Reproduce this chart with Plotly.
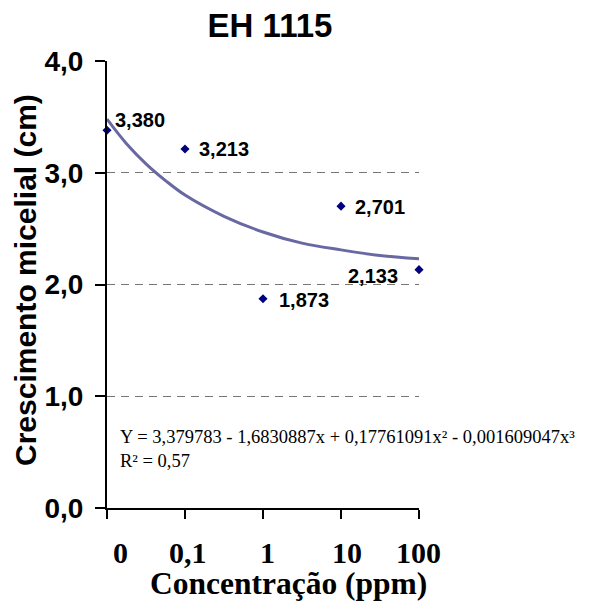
import plotly.graph_objects as go

categories = ["0", "0,1", "1", "10", "100"]
positions = [0, 1, 2, 3, 4]
values = [3.380, 3.213, 1.873, 2.701, 2.133]

# trend curve (category position -> value)
trend_x = [0, 0.25, 0.5, 0.75, 1, 1.5, 2, 2.5, 3, 3.5, 4]
trend_y = [3.48, 3.26, 3.08, 2.93, 2.80, 2.61, 2.47, 2.37, 2.31, 2.26, 2.23]

y_ticks = [0, 1, 2, 3, 4]
y_ticktext = ["0,0", "1,0", "2,0", "3,0", "4,0"]

equation = "Y = 3,379783 - 1,6830887x + 0,17761091x² - 0,001609047x³<br>R² = 0,57"

# label placement styles (anchor, x offset px, y offset px)
label_style = [("left", 6, 10), ("left", 12, 0), ("left", 14, -1), ("left", 12, -1), ("right", -19, -6)]

fig = go.Figure()
fig.add_trace(go.Scatter(
    x=trend_x, y=trend_y, mode="lines", line=dict(color="#6868a2", width=3, shape="spline"),
    hoverinfo="skip", showlegend=False))
fig.add_trace(go.Scatter(
    x=positions, y=values, mode="markers",
    marker=dict(symbol="diamond", color="#000080", size=7),
    cliponaxis=False, showlegend=False))

annotations = []
for p, v, (anc, xs, ys) in zip(positions, values, label_style):
    annotations.append(dict(x=p, y=v, xref="x", yref="y", text=f"{v:.3f}".replace(".", ","),
                            showarrow=False, xanchor=anc, yanchor="middle", xshift=xs, yshift=ys,
                            font=dict(family="Liberation Sans", size=20, color="black", weight="bold")))
xshifts = [13, 3, 4, 6, -1]
for p, c, xs in zip(positions, categories, xshifts):
    annotations.append(dict(x=p, y=0, xref="x", yref="y", text=c, showarrow=False,
                            yanchor="middle", yshift=-44, xshift=xs,
                            font=dict(family="Liberation Serif", size=30, color="black", weight="bold")))
annotations.append(dict(x=0.583, y=-0.168, xref="paper", yref="paper", text="Concentração (ppm)",
                        showarrow=False, xanchor="center", yanchor="middle",
                        font=dict(family="Liberation Serif", size=31.5, color="black", weight="bold")))
annotations.append(dict(x=-0.263, y=0.51, xref="paper", yref="paper", text="Crescimento micelial (cm)",
                        showarrow=False, textangle=-90, xanchor="center", yanchor="middle",
                        font=dict(family="Liberation Sans", size=30, color="black", weight="bold")))
annotations.append(dict(x=0.035, y=0.132, xref="paper", yref="paper", text=equation, align="left",
                        showarrow=False, xanchor="left", yanchor="middle",
                        font=dict(family="Liberation Serif", size=18.5, color="black")))

fig.update_layout(
    width=591, height=602,
    margin=dict(l=107, r=172, t=61, b=94),
    paper_bgcolor="white", plot_bgcolor="white",
    title=dict(text="EH 1115", x=270/591, xanchor="center", y=1-25/602, yanchor="middle",
               font=dict(family="Liberation Sans", size=33, color="black", weight="bold")),
    xaxis=dict(range=[0, 4], tickvals=positions, ticktext=[""] * 5, showline=True, linecolor="black",
               linewidth=2, ticks="outside", ticklen=9, tickwidth=2, tickcolor="black",
               showgrid=False, zeroline=False, fixedrange=True),
    yaxis=dict(range=[0, 4], tickvals=y_ticks, ticktext=y_ticktext, showline=True, linecolor="black",
               linewidth=2, ticks="outside", ticklen=10, tickwidth=2, tickcolor="black",
               showgrid=True, gridcolor="#777777", griddash="8px,6px", gridwidth=1, zeroline=False,
               tickfont=dict(family="Liberation Sans", size=28, color="black", weight="bold"),
               ticklabelstandoff=6, fixedrange=True),
    annotations=annotations,
)

fig.write_html("out.html")
